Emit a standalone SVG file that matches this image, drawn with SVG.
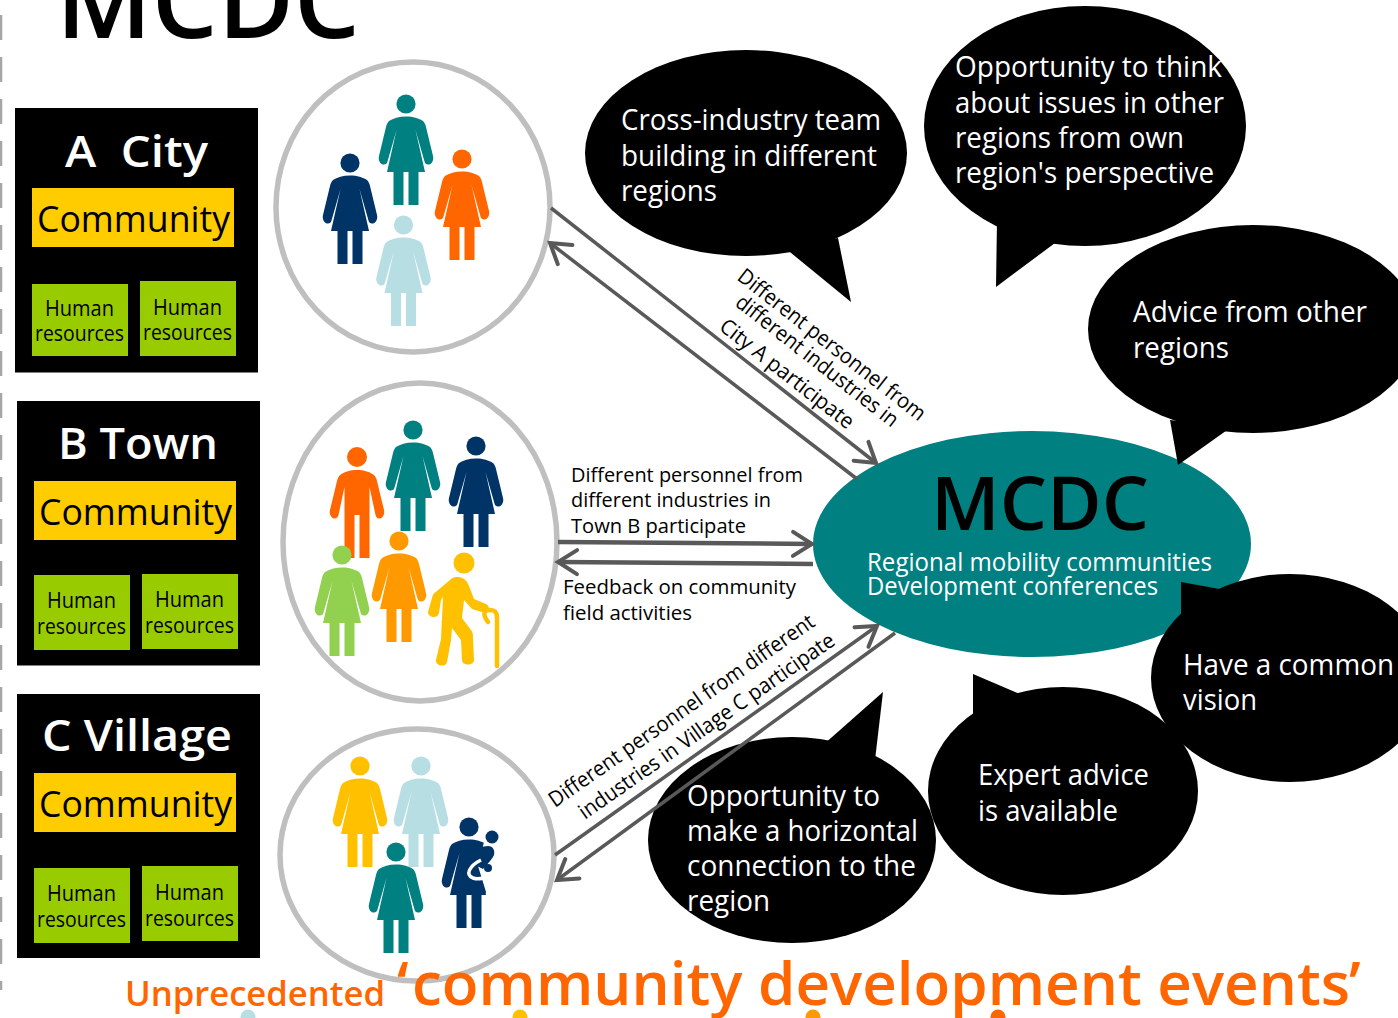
<svg xmlns="http://www.w3.org/2000/svg" width="1398" height="1018" viewBox="0 0 1398 1018">
<style>
text{font-family:"Open Sans","Noto Sans","Liberation Sans",sans-serif}
.box{fill:#000}
.com{fill:#FFCC00}
.hr{fill:#99CC00}
.t-title{fill:#fff;font-size:43px;font-weight:600}
.t-com{fill:#000;font-size:36px}
.t-hr{fill:#000;font-size:21px}
.t-w{fill:#fff;font-size:29px}
.t-sub{fill:#fff;font-size:25px}
.t-lab{fill:#000;font-size:20px}
.t-rot{fill:#000;font-size:21.500px}
.t-or{fill:#FF6600;font-weight:600}
.t-big{fill:#000;font-weight:600}
.circ{fill:#fff;stroke:#BFBFBF;stroke-width:5.5}
.bub{fill:#000}
.con{fill:none;stroke:#595959;stroke-width:3.5}
.thick{stroke-width:4.5}
.limb{fill:none;stroke:#FFC000;stroke-linecap:round;stroke-linejoin:round}
.navy{fill:#003366}.teal{fill:#008080}.orange{fill:#FF6600}.light{fill:#B7DEE3}.green{fill:#92D050}.amber{fill:#FF9900}.gold{fill:#FFC000}
</style>
<defs>
<marker id="arr" markerUnits="userSpaceOnUse" markerWidth="30" markerHeight="30" refX="23" refY="15" orient="auto-start-reverse" viewBox="0 0 30 30">
<path d="M4,3 L23,15 L4,27" fill="none" stroke="#595959" stroke-width="4" stroke-linecap="round"/>
</marker>
<g id="woman">
<circle cx="0" cy="0" r="9.6"/>
<path d="M0,12.5 C7,12.5 13,14.5 17,17 C18.5,18.5 19.5,20.5 20,23 L27,52 C28,56 26,60 23,60.500 C20.500,61 19,59.500 18.500,57.500 L9.500,26 L19,68 L12.500,68 L12.500,101 L2.500,101 L2.500,68 L-2.500,68 L-2.500,101 L-12.500,101 L-12.500,68 L-19,68 L-9.500,26 L-18.500,57.500 C-19,59.500 -20.500,61 -23,60.500 C-26,60 -28,56 -27,52 L-20,23 C-19.500,20.500 -18.500,18.500 -17,17 C-13,14.500 -7,12.500 0,12.500Z"/>
</g>
<g id="man">
<circle cx="0" cy="0" r="10"/>
<path d="M0,13 C7,13 13,15 17,18 C18.500,19.500 19.500,21.500 20,24 L27,53 C28,57 26,61 23,61.500 C20.500,62 19,60 18.500,58 L12.500,30 L12.500,101 L2.500,101 L2.500,58 L-2.500,58 L-2.500,101 L-12.500,101 L-12.500,30 L-18.500,58 C-19,60 -20.500,62 -23,61.500 C-26,61 -28,57 -27,53 L-20,24 C-19.500,21.500 -18.500,19.500 -17,18 C-13,15 -7,13 0,13Z"/>
</g>
</defs>
<path d="M1,15V990" fill="none" stroke="#A6A6A6" stroke-width="2.5" stroke-dasharray="25 17"/>
<g id="bottom-heads">
<circle cx="248" cy="1017" r="7.500" class="light"/>
<circle cx="520" cy="1017" r="7.500" class="gold"/>
<circle cx="813" cy="1017" r="7.500" class="amber"/>
<circle cx="998" cy="1017" r="7.500" class="orange"/>
</g>
<g id="page-title"><text class="t-big" x="56" y="38" font-size="104" textLength="304" lengthAdjust="spacingAndGlyphs">MCDC</text></g>

<g id="box-a">
<rect class="box" x="15" y="108" width="243" height="264.500"/>
<text class="t-title" x="65" y="167" textLength="143" lengthAdjust="spacingAndGlyphs">A&#160;&#160;City</text>
<rect class="com" x="32" y="188" width="202" height="59"/>
<text class="t-com" x="37" y="232" textLength="193" lengthAdjust="spacingAndGlyphs">Community</text>
<rect class="hr" x="32" y="284" width="96" height="72"/><rect class="hr" x="140" y="281" width="96" height="75"/>
<text class="t-hr" x="45" y="316" textLength="69" lengthAdjust="spacingAndGlyphs">Human</text>
<text class="t-hr" x="35" y="341" textLength="89" lengthAdjust="spacingAndGlyphs">resources</text>
<text class="t-hr" x="153" y="315" textLength="69" lengthAdjust="spacingAndGlyphs">Human</text>
<text class="t-hr" x="143" y="340" textLength="89" lengthAdjust="spacingAndGlyphs">resources</text>
</g>
<g id="box-b">
<rect class="box" x="17" y="401" width="243" height="264.500"/>
<text class="t-title" x="58" y="459" textLength="160" lengthAdjust="spacingAndGlyphs">B Town</text>
<rect class="com" x="34" y="481" width="202" height="59"/>
<text class="t-com" x="39" y="525" textLength="193" lengthAdjust="spacingAndGlyphs">Community</text>
<rect class="hr" x="34" y="575" width="96" height="75"/><rect class="hr" x="142" y="574" width="96" height="75"/>
<text class="t-hr" x="47" y="608" textLength="69" lengthAdjust="spacingAndGlyphs">Human</text>
<text class="t-hr" x="37" y="634" textLength="89" lengthAdjust="spacingAndGlyphs">resources</text>
<text class="t-hr" x="155" y="607" textLength="69" lengthAdjust="spacingAndGlyphs">Human</text>
<text class="t-hr" x="145" y="633" textLength="89" lengthAdjust="spacingAndGlyphs">resources</text>
</g>
<g id="box-c">
<rect class="box" x="17" y="694" width="243" height="264"/>
<text class="t-title" x="42" y="751" textLength="190" lengthAdjust="spacingAndGlyphs">C Village</text>
<rect class="com" x="34" y="773" width="202" height="59"/>
<text class="t-com" x="39" y="817" textLength="193" lengthAdjust="spacingAndGlyphs">Community</text>
<rect class="hr" x="34" y="868" width="96" height="75"/><rect class="hr" x="142" y="866" width="96" height="75"/>
<text class="t-hr" x="47" y="901" textLength="69" lengthAdjust="spacingAndGlyphs">Human</text>
<text class="t-hr" x="37" y="927" textLength="89" lengthAdjust="spacingAndGlyphs">resources</text>
<text class="t-hr" x="155" y="900" textLength="69" lengthAdjust="spacingAndGlyphs">Human</text>
<text class="t-hr" x="145" y="926" textLength="89" lengthAdjust="spacingAndGlyphs">resources</text>
</g>

<g id="circle-a">
<ellipse class="circ" cx="413" cy="207" rx="137" ry="145"/>
<use href="#woman" class="navy" x="350" y="163"/>
<use href="#woman" class="teal" x="406" y="104"/>
<use href="#woman" class="orange" x="462" y="159"/>
<use href="#woman" class="light" x="403.500" y="225"/>
</g>
<g id="circle-b">
<ellipse class="circ" cx="420" cy="542" rx="137" ry="159"/>
<use href="#man" class="orange" x="357" y="457"/>
<use href="#woman" class="teal" x="413" y="430"/>
<use href="#woman" class="navy" x="476" y="446"/>
<use href="#woman" class="green" x="342" y="555"/>
<use href="#woman" class="amber" x="399" y="541"/>
<g id="elder">
<circle cx="464" cy="563" r="10.500" class="gold"/>
<path class="gold" d="M456,577 C464,576 468,582 469,586 L474,599 L486,604 C490,606 490,612 485,613 L472,609 L464,600 L462,618 L471,630 C473,633 473,634 473,638 L474,660 C474,666 462,666 462,660 L461,640 L452,628 L451,640 L447,662 C446,668 435,666 436,660 L441,639 L443,597 L441,600 L439,613 C438,619 428,618 428,612 L432,598 C433,594 434,593 437,591 L450,580 C452,578 454,577 456,577Z"/>
<path class="limb" stroke-width="4.500" d="M488,622 C482,614 484,610 490,610 C495,610 497,612 497,618 L497,666"/>
</g>
</g>
<g id="circle-c">
<ellipse class="circ" cx="417" cy="855" rx="137" ry="126"/>
<use href="#woman" class="gold" x="360" y="766"/>
<use href="#woman" class="light" x="421" y="766"/>
<use href="#woman" class="navy" x="469" y="827"/>
<g id="baby">
<path fill="#fff" d="M485,838h13v60h-14l2,-6L478,866Z"/>
<circle cx="492" cy="837" r="6.500" class="navy"/>
<path class="navy" d="M466,841 L480,847 L488,846 C493,846 495,850 494,855 C492,860 487,864 483,869 L477,866 L486,895 L452,895 L460,860Z"/>
<path fill="none" stroke="#fff" stroke-width="3.500" d="M481,860 C469,866 465,875 473,878 C479,880 484,878 489,876"/>
<circle cx="488" cy="868" r="4" class="navy"/>
</g>
<use href="#woman" class="teal" x="396" y="852"/>
</g>

<g id="bubble-1">
<path class="bub" d="M785,248 L851,302 L838,238Z"/>
<ellipse class="bub" cx="746" cy="153" rx="161" ry="103"/>
<text class="t-w" x="621" y="130" textLength="260" lengthAdjust="spacingAndGlyphs">Cross-industry team</text>
<text class="t-w" x="621" y="166" textLength="256" lengthAdjust="spacingAndGlyphs">building in different</text>
<text class="t-w" x="621" y="201" textLength="96" lengthAdjust="spacingAndGlyphs">regions</text>
</g>
<g id="bubble-2">
<path class="bub" d="M997,220 L996,287 L1055,243Z"/>
<ellipse class="bub" cx="1085" cy="126" rx="161" ry="120"/>
<text class="t-w" x="955" y="77" textLength="267" lengthAdjust="spacingAndGlyphs">Opportunity to think</text>
<text class="t-w" x="955" y="113" textLength="269" lengthAdjust="spacingAndGlyphs">about issues in other</text>
<text class="t-w" x="955" y="148" textLength="229" lengthAdjust="spacingAndGlyphs">regions from own</text>
<text class="t-w" x="955" y="183" textLength="259" lengthAdjust="spacingAndGlyphs">region's perspective</text>
</g>

<g id="mcdc">
<ellipse cx="1032" cy="544" rx="219" ry="113" fill="#008080"/>
<text class="t-big" x="931" y="530" font-size="74" textLength="218" lengthAdjust="spacingAndGlyphs">MCDC</text>
<text class="t-sub" x="867" y="571" textLength="345" lengthAdjust="spacingAndGlyphs">Regional mobility communities</text>
<text class="t-sub" x="867" y="595" textLength="291" lengthAdjust="spacingAndGlyphs">Development conferences</text>
</g>
<g id="bubble-3">
<path class="bub" d="M1170,420 L1178,465 L1230,428Z"/>
<ellipse class="bub" cx="1253" cy="329" rx="165" ry="104"/>
<text class="t-w" x="1133" y="322" textLength="234" lengthAdjust="spacingAndGlyphs">Advice from other</text>
<text class="t-w" x="1133" y="358" textLength="96" lengthAdjust="spacingAndGlyphs">regions</text>
</g>
<g id="bubble-4">
<path class="bub" d="M1181,582 L1181,640 L1225,590Z"/>
<ellipse class="bub" cx="1290" cy="678" rx="139" ry="104"/>
<text class="t-w" x="1183" y="675" textLength="211" lengthAdjust="spacingAndGlyphs">Have a common</text>
<text class="t-w" x="1183" y="710" textLength="74" lengthAdjust="spacingAndGlyphs">vision</text>
</g>
<g id="bubble-5">
<path class="bub" d="M973,674 L973,730 L1020,694Z"/>
<ellipse class="bub" cx="1063" cy="791" rx="135" ry="104"/>
<text class="t-w" x="978" y="785" textLength="171" lengthAdjust="spacingAndGlyphs">Expert advice</text>
<text class="t-w" x="978" y="821" textLength="140" lengthAdjust="spacingAndGlyphs">is available</text>
</g>
<g id="bubble-6">
<path class="bub" d="M883,692 L875,760 L823,745Z"/>
<ellipse class="bub" cx="792" cy="840" rx="144" ry="103"/>
<text class="t-w" x="687" y="806" textLength="193" lengthAdjust="spacingAndGlyphs">Opportunity to</text>
<text class="t-w" x="687" y="841" textLength="231" lengthAdjust="spacingAndGlyphs">make a horizontal</text>
<text class="t-w" x="687" y="876" textLength="229" lengthAdjust="spacingAndGlyphs">connection to the</text>
<text class="t-w" x="687" y="911" textLength="83" lengthAdjust="spacingAndGlyphs">region</text>
</g>

<g id="connectors">
<path class="con" d="M551,208 L876,463" marker-end="url(#arr)"/>
<path class="con" d="M857,479 L550,243" marker-end="url(#arr)"/>
<path class="con thick" d="M558,542 L812,544" marker-end="url(#arr)"/>
<path class="con thick" d="M813,564 L558,562" marker-end="url(#arr)"/>
<path class="con" d="M555,855 L877,626" marker-end="url(#arr)"/>
<path class="con" d="M895,633 L557,880" marker-end="url(#arr)"/>
</g>
<g id="connector-labels">
<text class="t-rot" transform="translate(736,279) rotate(38)" textLength="232" lengthAdjust="spacingAndGlyphs">Different personnel from</text>
<text class="t-rot" transform="translate(734,305) rotate(38)" textLength="200" lengthAdjust="spacingAndGlyphs">different industries in</text>
<text class="t-rot" transform="translate(718,329) rotate(38)" textLength="164" lengthAdjust="spacingAndGlyphs">City A participate</text>
<text class="t-lab" x="571" y="482" textLength="232" lengthAdjust="spacingAndGlyphs">Different personnel from</text>
<text class="t-lab" x="571" y="507" textLength="200" lengthAdjust="spacingAndGlyphs">different industries in</text>
<text class="t-lab" x="571" y="533" textLength="175" lengthAdjust="spacingAndGlyphs">Town B participate</text>
<text class="t-lab" x="563" y="594" textLength="233" lengthAdjust="spacingAndGlyphs">Feedback on community</text>
<text class="t-lab" x="563" y="620" textLength="129" lengthAdjust="spacingAndGlyphs">field activities</text>
<text class="t-rot" transform="translate(555,808) rotate(-35)" textLength="319" lengthAdjust="spacingAndGlyphs">Different personnel from different</text>
<text class="t-rot" transform="translate(585,820) rotate(-35)" textLength="307" lengthAdjust="spacingAndGlyphs">industries in Village C participate</text>
</g>
<g id="headline">
<text class="t-or" x="125" y="1006" font-size="35" textLength="260" lengthAdjust="spacingAndGlyphs">Unprecedented</text>
<text class="t-or" y="1005" font-size="60"><tspan x="397">‘</tspan><tspan x="412" textLength="938" lengthAdjust="spacingAndGlyphs">community development events</tspan><tspan x="1349">’</tspan></text>
</g>
</svg>
